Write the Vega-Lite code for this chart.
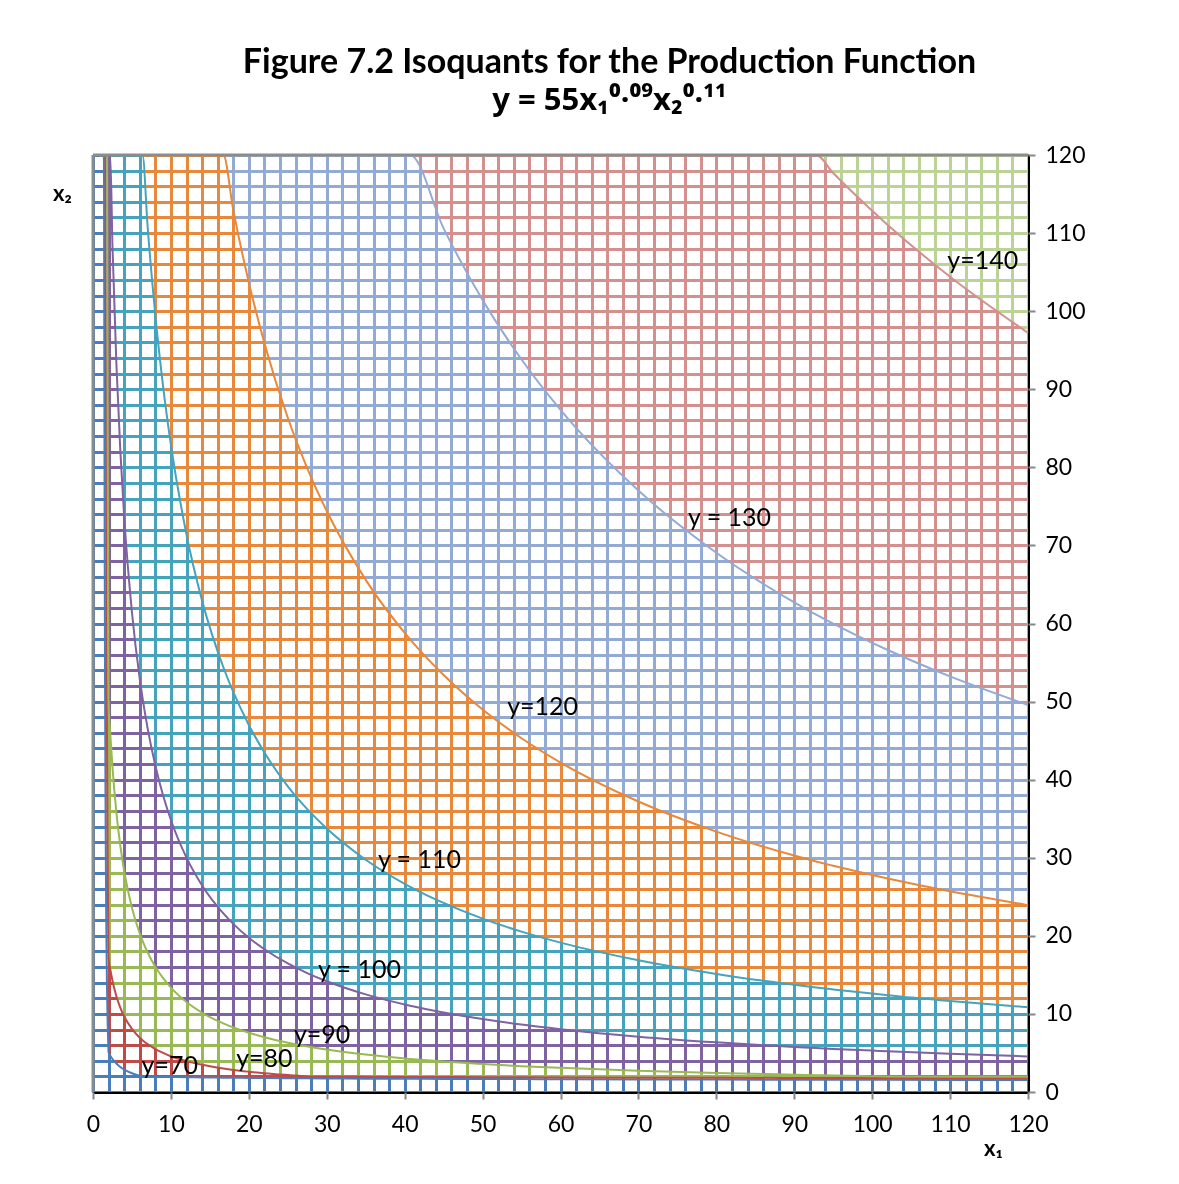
{
  "$schema": "https://vega.github.io/schema/vega-lite/v6.json",
  "width": 935,
  "height": 937,
  "autosize": {"type": "none"},
  "padding": {"left": 93, "top": 155, "right": 151, "bottom": 92},
  "background": "white",
  "config": {"view": {"stroke": null}, "font": "Lato"},
  "title": {
    "text": "Figure 7.2 Isoquants for the Production Function",
    "subtitle": "y = 55x₁⁰·⁰⁹x₂⁰·¹¹",
    "font": "Lato", "fontSize": 34, "fontWeight": "bold", "color": "#000000",
    "subtitleFont": "Noto Sans", "subtitleFontSize": 31, "subtitleFontWeight": "bold", "subtitleColor": "#000000",
    "anchor": "middle", "frame": "group", "dx": 49, "offset": 28, "subtitlePadding": 6
  },
  "datasets": {
    "b": [
      {"x": 0, "a70": 120, "a80": 120, "a90": 120, "a100": 120, "a110": 120, "a120": 120, "a130": 120, "a140": 120, "a150": 120},
      {"x": 1.4, "a70": 120, "a80": 120, "a90": 120, "a100": 120, "a110": 120, "a120": 120, "a130": 120, "a140": 120, "a150": 120},
      {"x": 1.42, "a70": 114.3, "a80": 120, "a90": 120, "a100": 120, "a110": 120, "a120": 120, "a130": 120, "a140": 120, "a150": 120},
      {"x": 1.45, "a70": 94.6, "a80": 120, "a90": 120, "a100": 120, "a110": 120, "a120": 120, "a130": 120, "a140": 120, "a150": 120},
      {"x": 1.5, "a70": 69.4, "a80": 120, "a90": 120, "a100": 120, "a110": 120, "a120": 120, "a130": 120, "a140": 120, "a150": 120},
      {"x": 1.55, "a70": 51.5, "a80": 120, "a90": 120, "a100": 120, "a110": 120, "a120": 120, "a130": 120, "a140": 120, "a150": 120},
      {"x": 1.6, "a70": 38.6, "a80": 120, "a90": 120, "a100": 120, "a110": 120, "a120": 120, "a130": 120, "a140": 120, "a150": 120},
      {"x": 1.62, "a70": 34.5, "a80": 116.1, "a90": 120, "a100": 120, "a110": 120, "a120": 120, "a130": 120, "a140": 120, "a150": 120},
      {"x": 1.65, "a70": 29.2, "a80": 98.3, "a90": 120, "a100": 120, "a110": 120, "a120": 120, "a130": 120, "a140": 120, "a150": 120},
      {"x": 1.7, "a70": 22.26, "a80": 74.9, "a90": 120, "a100": 120, "a110": 120, "a120": 120, "a130": 120, "a140": 120, "a150": 120},
      {"x": 1.75, "a70": 17.1, "a80": 57.58, "a90": 120, "a100": 120, "a110": 120, "a120": 120, "a130": 120, "a140": 120, "a150": 120},
      {"x": 1.8, "a70": 13.24, "a80": 44.6, "a90": 120, "a100": 120, "a110": 120, "a120": 120, "a130": 120, "a140": 120, "a150": 120},
      {"x": 1.82, "a70": 11.97, "a80": 40.3, "a90": 117.6, "a100": 120, "a110": 120, "a120": 120, "a130": 120, "a140": 120, "a150": 120},
      {"x": 1.85, "a70": 10.32, "a80": 34.74, "a90": 101.4, "a100": 120, "a110": 120, "a120": 120, "a130": 120, "a140": 120, "a150": 120},
      {"x": 1.9, "a70": 8.1, "a80": 27.26, "a90": 79.5, "a100": 120, "a110": 120, "a120": 120, "a130": 120, "a140": 120, "a150": 120},
      {"x": 1.95, "a70": 6.4, "a80": 21.53, "a90": 62.8, "a100": 120, "a110": 120, "a120": 120, "a130": 120, "a140": 120, "a150": 120},
      {"x": 2, "a70": 5.08, "a80": 17.1, "a90": 49.9, "a100": 120, "a110": 120, "a120": 120, "a130": 120, "a140": 120, "a150": 120},
      {"x": 2.205, "a70": 4.69, "a80": 15.79, "a90": 46.07, "a100": 120, "a110": 120, "a120": 120, "a130": 120, "a140": 120, "a150": 120},
      {"x": 2.5, "a70": 4.23, "a80": 14.25, "a90": 41.57, "a100": 108.3, "a110": 120, "a120": 120, "a130": 120, "a140": 120, "a150": 120},
      {"x": 3, "a70": 3.65, "a80": 12.27, "a90": 35.81, "a100": 93.29, "a110": 120, "a120": 120, "a130": 120, "a140": 120, "a150": 120},
      {"x": 3.5, "a70": 3.21, "a80": 10.82, "a90": 31.57, "a100": 82.24, "a110": 120, "a120": 120, "a130": 120, "a140": 120, "a150": 120},
      {"x": 4, "a70": 2.88, "a80": 9.7, "a90": 28.3, "a100": 73.73, "a110": 120, "a120": 120, "a130": 120, "a140": 120, "a150": 120},
      {"x": 5, "a70": 2.4, "a80": 8.08, "a90": 23.58, "a100": 61.42, "a110": 120, "a120": 120, "a130": 120, "a140": 120, "a150": 120},
      {"x": 6, "a70": 2.07, "a80": 6.96, "a90": 20.31, "a100": 52.91, "a110": 120, "a120": 120, "a130": 120, "a140": 120, "a150": 120},
      {"x": 6.36, "a70": 2.0, "a80": 6.64, "a90": 19.36, "a100": 50.45, "a110": 120, "a120": 120, "a130": 120, "a140": 120, "a150": 120},
      {"x": 7, "a70": 1.98, "a80": 6.14, "a90": 17.9, "a100": 46.64, "a110": 110.97, "a120": 120, "a130": 120, "a140": 120, "a150": 120},
      {"x": 8, "a70": 1.96, "a80": 5.5, "a90": 16.05, "a100": 41.82, "a110": 99.49, "a120": 120, "a130": 120, "a140": 120, "a150": 120},
      {"x": 9, "a70": 1.94, "a80": 5.0, "a90": 14.58, "a100": 37.97, "a110": 90.34, "a120": 120, "a130": 120, "a140": 120, "a150": 120},
      {"x": 10, "a70": 1.92, "a80": 4.58, "a90": 13.37, "a100": 34.84, "a110": 82.88, "a120": 120, "a130": 120, "a140": 120, "a150": 120},
      {"x": 12, "a70": 1.89, "a80": 3.95, "a90": 11.52, "a100": 30.01, "a110": 71.4, "a120": 120, "a130": 120, "a140": 120, "a150": 120},
      {"x": 14, "a70": 1.86, "a80": 3.48, "a90": 10.15, "a100": 26.45, "a110": 62.93, "a120": 120, "a130": 120, "a140": 120, "a150": 120},
      {"x": 16.73, "a70": 1.83, "a80": 3.01, "a90": 8.78, "a100": 22.87, "a110": 54.4, "a120": 120, "a130": 120, "a140": 120, "a150": 120},
      {"x": 18, "a70": 1.82, "a80": 2.83, "a90": 8.27, "a100": 21.53, "a110": 51.23, "a120": 112.97, "a130": 120, "a140": 120, "a150": 120},
      {"x": 20, "a70": 1.8, "a80": 2.6, "a90": 7.59, "a100": 19.76, "a110": 47.01, "a120": 103.68, "a130": 120, "a140": 120, "a150": 120},
      {"x": 22, "a70": 1.79, "a80": 2.4, "a90": 7.02, "a100": 18.28, "a110": 43.48, "a120": 95.9, "a130": 120, "a140": 120, "a150": 120},
      {"x": 25, "a70": 1.77, "a80": 2.17, "a90": 6.32, "a100": 16.46, "a110": 39.15, "a120": 86.35, "a130": 120, "a140": 120, "a150": 120},
      {"x": 27.56, "a70": 1.75, "a80": 2.0, "a90": 5.83, "a100": 15.2, "a110": 36.16, "a120": 79.75, "a130": 120, "a140": 120, "a150": 120},
      {"x": 30, "a70": 1.74, "a80": 1.99, "a90": 5.44, "a100": 14.18, "a110": 33.74, "a120": 74.4, "a130": 120, "a140": 120, "a150": 120},
      {"x": 35, "a70": 1.71, "a80": 1.96, "a90": 4.8, "a100": 12.5, "a110": 29.74, "a120": 65.59, "a130": 120, "a140": 120, "a150": 120},
      {"x": 40.7, "a70": 1.69, "a80": 1.93, "a90": 4.24, "a100": 11.05, "a110": 26.28, "a120": 57.97, "a130": 120, "a140": 120, "a150": 120},
      {"x": 45, "a70": 1.67, "a80": 1.91, "a90": 3.91, "a100": 10.18, "a110": 24.21, "a120": 53.4, "a130": 110.6, "a140": 120, "a150": 120},
      {"x": 50, "a70": 1.66, "a80": 1.9, "a90": 3.58, "a100": 9.34, "a110": 22.21, "a120": 48.98, "a130": 101.43, "a140": 120, "a150": 120},
      {"x": 55, "a70": 1.65, "a80": 1.88, "a90": 3.31, "a100": 8.63, "a110": 20.54, "a120": 45.3, "a130": 93.81, "a140": 120, "a150": 120},
      {"x": 60, "a70": 1.63, "a80": 1.87, "a90": 3.09, "a100": 8.04, "a110": 19.13, "a120": 42.19, "a130": 87.36, "a140": 120, "a150": 120},
      {"x": 70, "a70": 1.61, "a80": 1.84, "a90": 2.72, "a100": 7.09, "a110": 16.87, "a120": 37.2, "a130": 77.03, "a140": 120, "a150": 120},
      {"x": 80, "a70": 1.59, "a80": 1.82, "a90": 2.44, "a100": 6.36, "a110": 15.12, "a120": 33.35, "a130": 69.06, "a140": 120, "a150": 120},
      {"x": 90, "a70": 1.57, "a80": 1.8, "a90": 2.22, "a100": 5.77, "a110": 13.73, "a120": 30.28, "a130": 62.71, "a140": 120, "a150": 120},
      {"x": 92.8, "a70": 1.57, "a80": 1.79, "a90": 2.16, "a100": 5.63, "a110": 13.39, "a120": 29.52, "a130": 61.14, "a140": 120, "a150": 120},
      {"x": 95, "a70": 1.57, "a80": 1.79, "a90": 2.12, "a100": 5.52, "a110": 13.14, "a120": 28.97, "a130": 59.99, "a140": 117.69, "a150": 120},
      {"x": 100, "a70": 1.56, "a80": 1.78, "a90": 2.03, "a100": 5.3, "a110": 12.6, "a120": 27.78, "a130": 57.53, "a140": 112.86, "a150": 120},
      {"x": 102, "a70": 1.56, "a80": 1.78, "a90": 2.0, "a100": 5.21, "a110": 12.39, "a120": 27.33, "a130": 56.61, "a140": 111.05, "a150": 120},
      {"x": 110, "a70": 1.55, "a80": 1.77, "a90": 1.99, "a100": 4.9, "a110": 11.65, "a120": 25.7, "a130": 53.22, "a140": 104.4, "a150": 120},
      {"x": 120, "a70": 1.53, "a80": 1.75, "a90": 1.97, "a100": 4.56, "a110": 10.85, "a120": 23.93, "a130": 49.56, "a140": 97.22, "a150": 120}
    ],
    "lab": [
      {"t": "y=70", "x": 9.85, "y": 3.3},
      {"t": "y=80", "x": 22.0, "y": 4.2},
      {"t": "y=90", "x": 29.4, "y": 7.3},
      {"t": "y = 100", "x": 34.2, "y": 15.6},
      {"t": "y = 110", "x": 41.9, "y": 29.7},
      {"t": "y=120", "x": 57.7, "y": 49.3},
      {"t": "y = 130", "x": 81.7, "y": 73.5},
      {"t": "y=140", "x": 114.2, "y": 106.4}
    ]
  },
  "layer": [
    {
      "data": {"name": "b"},
      "mark": {"type": "area", "orient": "vertical", "color": "#4A7EBB", "blend": "screen", "interpolate": "monotone"},
      "encoding": {
        "x": {"field": "x", "type": "quantitative", "scale": {"domain": [0, 120], "nice": false, "zero": false},
          "axis": {
            "values": [0,2,4,6,8,10,12,14,16,18,20,22,24,26,28,30,32,34,36,38,40,42,44,46,48,50,52,54,56,58,60,62,64,66,68,70,72,74,76,78,80,82,84,86,88,90,92,94,96,98,100,102,104,106,108,110,112,114,116,118,120],
            "tickCount": 200, "format": "d",
            "grid": true, "gridColor": "#000000", "gridWidth": 3, "gridOpacity": 1,
            "domain": false,
            "ticks": true, "tickColor": "#878787", "tickWidth": 2, "tickSize": 7,
            "tickOpacity": {"condition": {"test": "datum.value % 10 === 0", "value": 1}, "value": 0},
            "labelExpr": "datum.value % 10 === 0 ? datum.label : ''",
            "labelOverlap": false, "labelFlush": false, "labelFont": "Lato", "labelFontSize": 23, "labelColor": "#000000", "labelPadding": 14,
            "title": "x₁", "titleFont": "Lato", "titleFontSize": 22, "titleFontWeight": "bold", "titleColor": "#000000",
            "titleX": 900, "titleY": 56, "titleAlign": "center", "titleBaseline": "middle"
          }
        },
        "y": {"field": "a70", "type": "quantitative", "scale": {"domain": [0, 120], "nice": false, "zero": true},
          "axis": {
            "orient": "right",
            "values": [0,2,4,6,8,10,12,14,16,18,20,22,24,26,28,30,32,34,36,38,40,42,44,46,48,50,52,54,56,58,60,62,64,66,68,70,72,74,76,78,80,82,84,86,88,90,92,94,96,98,100,102,104,106,108,110,112,114,116,118,120],
            "tickCount": 200, "format": "d",
            "grid": true, "gridColor": "#000000", "gridWidth": 3, "gridOpacity": 1,
            "domain": false,
            "ticks": true, "tickColor": "#878787", "tickWidth": 2, "tickSize": 7,
            "tickOpacity": {"condition": {"test": "datum.value % 10 === 0", "value": 1}, "value": 0},
            "labelExpr": "datum.value % 10 === 0 ? datum.label : ''",
            "labelOverlap": false, "labelFlush": false, "labelFont": "Lato", "labelFontSize": 23, "labelColor": "#000000", "labelPadding": 10,
            "title": "x₂", "titleFont": "Lato", "titleFontSize": 22, "titleFontWeight": "bold", "titleColor": "#000000",
            "titleAngle": 0, "titleX": -966, "titleY": 38, "titleAlign": "center", "titleBaseline": "middle"
          }
        }
      }
    },
    {
      "data": {"name": "b"},
      "mark": {"type": "area", "orient": "vertical", "color": "#BE4B48", "blend": "screen", "interpolate": "monotone"},
      "encoding": {
        "x": {"field": "x", "type": "quantitative"},
        "y": {"field": "a70", "type": "quantitative"},
        "y2": {"field": "a80"}
      }
    },
    {
      "data": {"name": "b"},
      "mark": {"type": "area", "orient": "vertical", "color": "#98B954", "blend": "screen", "interpolate": "monotone"},
      "encoding": {
        "x": {"field": "x", "type": "quantitative"},
        "y": {"field": "a80", "type": "quantitative"},
        "y2": {"field": "a90"}
      }
    },
    {
      "data": {"name": "b"},
      "mark": {"type": "area", "orient": "vertical", "color": "#7E62A1", "blend": "screen", "interpolate": "monotone"},
      "encoding": {
        "x": {"field": "x", "type": "quantitative"},
        "y": {"field": "a90", "type": "quantitative"},
        "y2": {"field": "a100"}
      }
    },
    {
      "data": {"name": "b"},
      "mark": {"type": "area", "orient": "vertical", "color": "#46A3BD", "blend": "screen", "interpolate": "monotone"},
      "encoding": {
        "x": {"field": "x", "type": "quantitative"},
        "y": {"field": "a100", "type": "quantitative"},
        "y2": {"field": "a110"}
      }
    },
    {
      "data": {"name": "b"},
      "mark": {"type": "area", "orient": "vertical", "color": "#E8883A", "blend": "screen", "interpolate": "monotone"},
      "encoding": {
        "x": {"field": "x", "type": "quantitative"},
        "y": {"field": "a110", "type": "quantitative"},
        "y2": {"field": "a120"}
      }
    },
    {
      "data": {"name": "b"},
      "mark": {"type": "area", "orient": "vertical", "color": "#93AAD4", "blend": "screen", "interpolate": "monotone"},
      "encoding": {
        "x": {"field": "x", "type": "quantitative"},
        "y": {"field": "a120", "type": "quantitative"},
        "y2": {"field": "a130"}
      }
    },
    {
      "data": {"name": "b"},
      "mark": {"type": "area", "orient": "vertical", "color": "#D4908E", "blend": "screen", "interpolate": "monotone"},
      "encoding": {
        "x": {"field": "x", "type": "quantitative"},
        "y": {"field": "a130", "type": "quantitative"},
        "y2": {"field": "a140"}
      }
    },
    {
      "data": {"name": "b"},
      "mark": {"type": "area", "orient": "vertical", "color": "#BDD396", "blend": "screen", "interpolate": "monotone"},
      "encoding": {
        "x": {"field": "x", "type": "quantitative"},
        "y": {"field": "a140", "type": "quantitative"},
        "y2": {"field": "a150"}
      }
    },
    {
      "data": {"name": "b"},
      "transform": [{"fold": ["a70", "a80", "a90", "a100", "a110", "a120", "a130", "a140"], "as": ["lev", "v"]}],
      "mark": {"type": "line", "interpolate": "monotone", "strokeWidth": 2},
      "encoding": {
        "x": {"field": "x", "type": "quantitative"},
        "y": {"field": "v", "type": "quantitative"},
        "color": {"field": "lev", "type": "nominal", "legend": null,
          "scale": {"domain": ["a70", "a80", "a90", "a100", "a110", "a120", "a130", "a140"],
                    "range": ["#4A7EBB", "#BE4B48", "#98B954", "#7E62A1", "#46A3BD", "#E8883A", "#93AAD4", "#D4908E"]}}
      }
    },
    {
      "data": {"values": [{}]},
      "mark": {"type": "rule", "color": "#8C8C8C", "strokeWidth": 3},
      "encoding": {"y": {"datum": 120}}
    },
    {
      "data": {"values": [{}]},
      "mark": {"type": "rule", "color": "#8C8C8C", "strokeWidth": 3},
      "encoding": {"x": {"datum": 0}}
    },
    {
      "data": {"name": "lab"},
      "mark": {"type": "text", "font": "Lato", "fontSize": 25, "color": "#000000", "align": "center", "baseline": "middle"},
      "encoding": {
        "x": {"field": "x", "type": "quantitative"},
        "y": {"field": "y", "type": "quantitative"},
        "text": {"field": "t", "type": "nominal"}
      }
    }
  ]
}
